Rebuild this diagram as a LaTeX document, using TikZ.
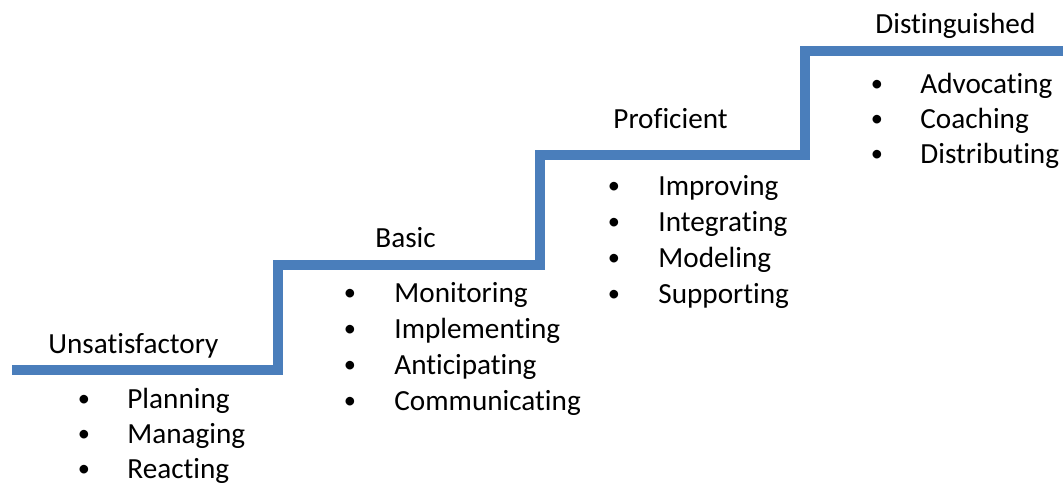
\documentclass[tikz,border=0pt]{standalone}
\usepackage{fontspec}
\setmainfont{Carlito}[Ligatures=NoCommon]
\definecolor{stairblue}{HTML}{4A7EBB}
\begin{document}
\begin{tikzpicture}[x=0.5pt,y=-0.5pt,
  stair/.style={draw=stairblue,line width=4.6pt,line join=miter,line cap=butt},
  lvl/.style={anchor=base west,inner sep=0pt,font=\fontsize{14.6}{17}\selectfont},
  bul/.style={anchor=base,inner sep=0pt,yshift=0.8pt,font=\fontsize{12.2}{14}\selectfont},
  itm/.style={anchor=base west,inner sep=0pt,font=\fontsize{14.6}{17}\selectfont}]
\useasboundingbox (0,0) rectangle (1063,482);
% staircase
\coordinate (s0) at (12,370);
\coordinate (s1) at (278,370);
\coordinate (s2) at (278,265);
\coordinate (s3) at (540,265);
\coordinate (s4) at (540,155);
\coordinate (s5) at (805,155);
\coordinate (s6) at (805,51);
\coordinate (s7) at (1063,51);
\draw[stair] (s0) -- (s1) -- (s2) -- (s3) -- (s4) -- (s5) -- (s6) -- (s7);
% Unsatisfactory
\node[lvl] (l1) at (48,353) {Unsatisfactory};
\node[bul] (b11) at (84,408) {•};
\node[itm] (t11) at (127,408) {Planning};
\node[bul] (b12) at (84,443) {•};
\node[itm] (t12) at (127,443) {Managing};
\node[bul] (b13) at (84,478) {•};
\node[itm] (t13) at (127,478) {Reacting};
% Basic
\node[lvl] (l2) at (375,247) {Basic};
\node[bul] (b21) at (350,302) {•};
\node[itm] (t21) at (394,302) {Monitoring};
\node[bul] (b22) at (350,338) {•};
\node[itm] (t22) at (394,338) {Implementing};
\node[bul] (b23) at (350,374) {•};
\node[itm] (t23) at (394,374) {Anticipating};
\node[bul] (b24) at (350,410) {•};
\node[itm] (t24) at (394,410) {Communicating};
% Proficient
\node[lvl] (l3) at (613,128) {Proficient};
\node[bul] (b31) at (614,195) {•};
\node[itm] (t31) at (658,195) {Improving};
\node[bul] (b32) at (614,231) {•};
\node[itm] (t32) at (658,231) {Integrating};
\node[bul] (b33) at (614,267) {•};
\node[itm] (t33) at (658,267) {Modeling};
\node[bul] (b34) at (614,303) {•};
\node[itm] (t34) at (658,303) {Supporting};
% Distinguished
\node[lvl] (l4) at (875,33) {Distinguished};
\node[bul] (b41) at (877,93) {•};
\node[itm] (t41) at (920,93) {Advocating};
\node[bul] (b42) at (877,128) {•};
\node[itm] (t42) at (920,128) {Coaching};
\node[bul] (b43) at (877,163) {•};
\node[itm] (t43) at (920,163) {Distributing};
\end{tikzpicture}
\end{document}
